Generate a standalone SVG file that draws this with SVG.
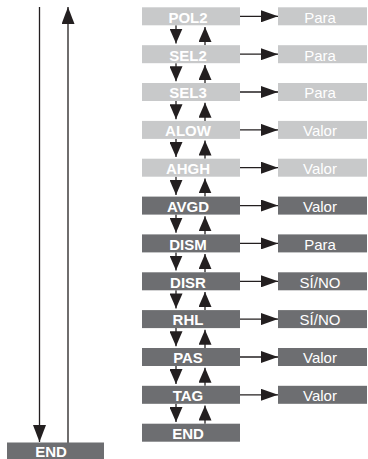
<svg xmlns="http://www.w3.org/2000/svg" width="368" height="459" viewBox="0 0 368 459">
<defs>
<style>
.lt{fill:#c8c9ca}
.dk{fill:#6d6e71}
.lbl{font-family:"Liberation Sans",Arial,sans-serif;font-size:15px;font-weight:bold;fill:#fff;text-anchor:middle}
.val{font-family:"Liberation Sans",Arial,sans-serif;font-size:15px;fill:#fff;text-anchor:middle}
.ln{stroke:#231f20;stroke-width:1.3;fill:none}
</style>
<marker id="ah" markerUnits="userSpaceOnUse" markerWidth="17" markerHeight="12" refX="17" refY="6" orient="auto">
<path d="M0,0 L17,6 L0,12 z" fill="#231f20"/>
</marker>
<marker id="av" markerUnits="userSpaceOnUse" markerWidth="15" markerHeight="13" refX="15" refY="6.5" orient="auto">
<path d="M0,0 L15,6.5 L0,13 z" fill="#231f20"/>
</marker>
<marker id="al" markerUnits="userSpaceOnUse" markerWidth="17" markerHeight="13" refX="17" refY="6.5" orient="auto">
<path d="M0,0 L17,6.5 L0,13 z" fill="#231f20"/>
</marker>
</defs>

<g id="connectors">
<line class="ln" x1="39.5" y1="7" x2="39.5" y2="442" marker-end="url(#al)"/>
<line class="ln" x1="68" y1="443" x2="68" y2="7" marker-end="url(#al)"/>

<line class="ln" x1="240" y1="16.3" x2="278" y2="16.3" marker-end="url(#ah)"/>
<line class="ln" x1="240" y1="54.2" x2="278" y2="54.2" marker-end="url(#ah)"/>
<line class="ln" x1="240" y1="92" x2="278" y2="92" marker-end="url(#ah)"/>
<line class="ln" x1="240" y1="129.9" x2="278" y2="129.9" marker-end="url(#ah)"/>
<line class="ln" x1="240" y1="167.7" x2="278" y2="167.7" marker-end="url(#ah)"/>
<line class="ln" x1="240" y1="205.6" x2="278" y2="205.6" marker-end="url(#ah)"/>
<line class="ln" x1="240" y1="243.4" x2="278" y2="243.4" marker-end="url(#ah)"/>
<line class="ln" x1="240" y1="281.3" x2="278" y2="281.3" marker-end="url(#ah)"/>
<line class="ln" x1="240" y1="319.1" x2="278" y2="319.1" marker-end="url(#ah)"/>
<line class="ln" x1="240" y1="357" x2="278" y2="357" marker-end="url(#ah)"/>
<line class="ln" x1="240" y1="394.8" x2="278" y2="394.8" marker-end="url(#ah)"/>

<line class="ln" x1="176" y1="25.3" x2="176" y2="43.5" marker-end="url(#av)"/>
<line class="ln" x1="205" y1="45.2" x2="205" y2="27" marker-end="url(#av)"/>
<line class="ln" x1="176" y1="63.2" x2="176" y2="81.3" marker-end="url(#av)"/>
<line class="ln" x1="205" y1="83" x2="205" y2="64.9" marker-end="url(#av)"/>
<line class="ln" x1="176" y1="101" x2="176" y2="119.2" marker-end="url(#av)"/>
<line class="ln" x1="205" y1="120.9" x2="205" y2="102.7" marker-end="url(#av)"/>
<line class="ln" x1="176" y1="138.9" x2="176" y2="157" marker-end="url(#av)"/>
<line class="ln" x1="205" y1="158.7" x2="205" y2="140.6" marker-end="url(#av)"/>
<line class="ln" x1="176" y1="176.7" x2="176" y2="194.9" marker-end="url(#av)"/>
<line class="ln" x1="205" y1="196.6" x2="205" y2="178.4" marker-end="url(#av)"/>
<line class="ln" x1="176" y1="214.6" x2="176" y2="232.7" marker-end="url(#av)"/>
<line class="ln" x1="205" y1="234.4" x2="205" y2="216.3" marker-end="url(#av)"/>
<line class="ln" x1="176" y1="252.4" x2="176" y2="270.6" marker-end="url(#av)"/>
<line class="ln" x1="205" y1="272.3" x2="205" y2="254.1" marker-end="url(#av)"/>
<line class="ln" x1="176" y1="290.3" x2="176" y2="308.4" marker-end="url(#av)"/>
<line class="ln" x1="205" y1="310.1" x2="205" y2="292" marker-end="url(#av)"/>
<line class="ln" x1="176" y1="328.1" x2="176" y2="346.3" marker-end="url(#av)"/>
<line class="ln" x1="205" y1="348" x2="205" y2="329.8" marker-end="url(#av)"/>
<line class="ln" x1="176" y1="366" x2="176" y2="384.1" marker-end="url(#av)"/>
<line class="ln" x1="205" y1="385.8" x2="205" y2="367.7" marker-end="url(#av)"/>
<line class="ln" x1="176" y1="403.8" x2="176" y2="422" marker-end="url(#av)"/>
<line class="ln" x1="205" y1="423.7" x2="205" y2="405.5" marker-end="url(#av)"/>
</g>

<g id="end-left"><rect class="dk" x="7" y="442.5" width="97" height="18"/><text class="lbl" x="51" y="457.3">END</text></g>

<g id="pol2"><rect class="lt" x="142" y="7.3" width="98" height="18"/><text class="lbl" x="188" y="22.6">POL2</text></g>
<g id="pol2-val"><rect class="lt" x="278" y="7.3" width="89" height="18"/><text class="val" x="320" y="22.6">Para</text></g>

<g id="sel2"><rect class="lt" x="142" y="45.2" width="98" height="18"/><text class="lbl" x="188" y="60.5">SEL2</text></g>
<g id="sel2-val"><rect class="lt" x="278" y="45.2" width="89" height="18"/><text class="val" x="320" y="60.5">Para</text></g>

<g id="sel3"><rect class="lt" x="142" y="83" width="98" height="18"/><text class="lbl" x="188" y="98.3">SEL3</text></g>
<g id="sel3-val"><rect class="lt" x="278" y="83" width="89" height="18"/><text class="val" x="320" y="98.3">Para</text></g>

<g id="alow"><rect class="lt" x="142" y="120.9" width="98" height="18"/><text class="lbl" x="188" y="136.2">ALOW</text></g>
<g id="alow-val"><rect class="lt" x="278" y="120.9" width="89" height="18"/><text class="val" x="320" y="136.2">Valor</text></g>

<g id="ahgh"><rect class="lt" x="142" y="158.7" width="98" height="18"/><text class="lbl" x="188" y="174">AHGH</text></g>
<g id="ahgh-val"><rect class="lt" x="278" y="158.7" width="89" height="18"/><text class="val" x="320" y="174">Valor</text></g>

<g id="avgd"><rect class="dk" x="142" y="196.6" width="98" height="18"/><text class="lbl" x="188" y="211.9">AVGD</text></g>
<g id="avgd-val"><rect class="dk" x="278" y="196.6" width="89" height="18"/><text class="val" x="320" y="211.9">Valor</text></g>

<g id="dism"><rect class="dk" x="142" y="234.4" width="98" height="18"/><text class="lbl" x="188" y="249.7">DISM</text></g>
<g id="dism-val"><rect class="dk" x="278" y="234.4" width="89" height="18"/><text class="val" x="320" y="249.7">Para</text></g>

<g id="disr"><rect class="dk" x="142" y="272.3" width="98" height="18"/><text class="lbl" x="188" y="287.6">DISR</text></g>
<g id="disr-val"><rect class="dk" x="278" y="272.3" width="89" height="18"/><text class="val" x="320" y="287.6">SÍ/NO</text></g>

<g id="rhl"><rect class="dk" x="142" y="310.1" width="98" height="18"/><text class="lbl" x="188" y="325.4">RHL</text></g>
<g id="rhl-val"><rect class="dk" x="278" y="310.1" width="89" height="18"/><text class="val" x="320" y="325.4">SÍ/NO</text></g>

<g id="pas"><rect class="dk" x="142" y="348" width="98" height="18"/><text class="lbl" x="188" y="363.3">PAS</text></g>
<g id="pas-val"><rect class="dk" x="278" y="348" width="89" height="18"/><text class="val" x="320" y="363.3">Valor</text></g>

<g id="tag"><rect class="dk" x="142" y="385.8" width="98" height="18"/><text class="lbl" x="188" y="401.1">TAG</text></g>
<g id="tag-val"><rect class="dk" x="278" y="385.8" width="89" height="18"/><text class="val" x="320" y="401.1">Valor</text></g>

<g id="end"><rect class="dk" x="142" y="423.7" width="98" height="18"/><text class="lbl" x="188" y="439">END</text></g>
</svg>
